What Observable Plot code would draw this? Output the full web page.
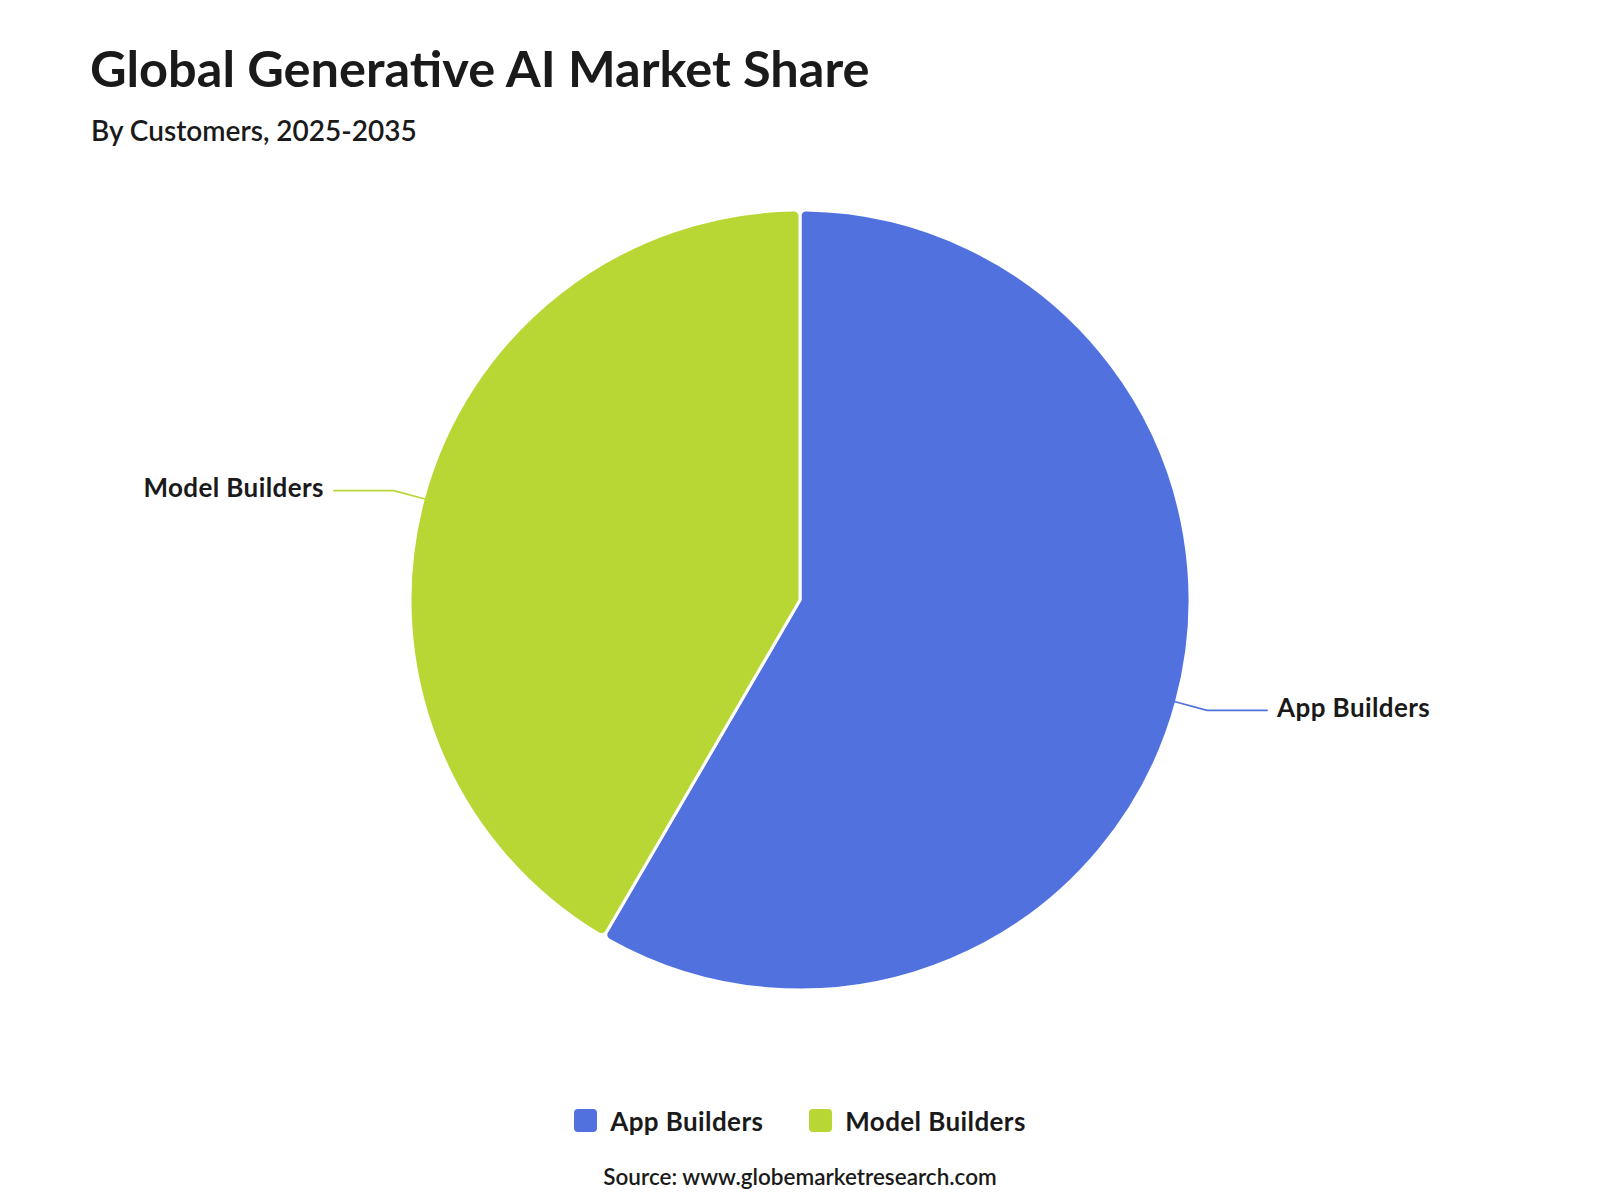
<!DOCTYPE html>
<html>
<head>
<meta charset="utf-8">
<script src="https://cdn.jsdelivr.net/npm/d3@7"></script>
<script src="https://cdn.jsdelivr.net/npm/@observablehq/plot@0.6"></script>
<style>
  html, body { margin: 0; padding: 0; background: #fff; }
  body { width: 1600px; height: 1200px; position: relative; font-family: Lato, "Noto Sans", sans-serif; color: #1a1a1a; overflow: hidden; }
  #title { position: absolute; left: 90px; top: 43px; font-size: 50.5px; font-weight: 700; line-height: 1; white-space: nowrap; }
  #subtitle { position: absolute; left: 91px; top: 116px; font-size: 28px; font-weight: 600; line-height: 1; white-space: nowrap; }
  #chart { position: absolute; left: 0; top: 170px; }
  #legend { position: absolute; left: 0; top: 1104px; width: 1600px; display: flex; justify-content: center; }
  #legend rect { rx: 4px; ry: 4px; }
  #source { position: absolute; left: 0; top: 1166px; width: 1600px; text-align: center; font-size: 22.5px; font-weight: 600; line-height: 1; }
</style>
</head>
<body>
<div id="title">Global Generative AI Market Share</div>
<div id="subtitle">By Customers, 2025-2035</div>
<div id="chart"></div>
<div id="legend"></div>
<div id="source">Source: www.globemarketresearch.com</div>
<script>
const categories = ["App Builders", "Model Builders"];
const shares = [58.4, 41.6];
const colors = ["#5172de", "#b8d734"];

const W = 1600, H = 860, R = 390;
const xHalf = W / 2 / R, yHalf = H / 2 / R;

const pie = d3.pie().sort(null).value(d => d.share)(categories.map((c, i) => ({category: c, share: shares[i]})));

// leader lines and labels in radius units
const leaderPts = [];
const labels = [];
pie.forEach(a => {
  const mid = (a.startAngle + a.endAngle) / 2;
  const sx = Math.sin(mid), sy = Math.cos(mid);
  const side = sx >= 0 ? 1 : -1;
  const r0 = 0.99, r1 = 1.08, h = 60 / R, gap = 10 / R;
  const ex = sx * r1, ey = sy * r1;
  leaderPts.push({category: a.data.category, x: sx * r0, y: sy * r0});
  leaderPts.push({category: a.data.category, x: ex, y: ey});
  leaderPts.push({category: a.data.category, x: ex + side * h, y: ey});
  labels.push({category: a.data.category, x: ex + side * (h + gap), y: ey, anchor: side > 0 ? "start" : "end"});
});

function pieMark(index, scales, values, dimensions, context) {
  const cx = scales.x(0), cy = scales.y(0);
  const rad = scales.x(1) - scales.x(0);
  const arc = d3.arc().innerRadius(0).outerRadius(rad).cornerRadius(6);
  const g = d3.create("svg:g").attr("transform", `translate(${cx},${cy})`);
  g.selectAll("path").data(pie).join("path")
    .attr("d", arc)
    .attr("fill", d => scales.color(d.data.category))
    .attr("stroke", "#fff")
    .attr("stroke-width", 3)
    .attr("stroke-linejoin", "round");
  return g.node();
}

const labelStyle = {x: "x", y: "y", text: "category", fontSize: 26, fontWeight: 700, fill: "#1a1a1a", dy: -2};
const chart = Plot.plot({
  width: W,
  height: H,
  margin: 0,
  x: {domain: [-xHalf, xHalf], axis: null},
  y: {domain: [-yHalf, yHalf], axis: null},
  color: {domain: categories, range: colors},
  style: {fontFamily: "Lato, 'Noto Sans', sans-serif", background: "transparent", letterSpacing: "0.4px"},
  marks: [
    pieMark,
    Plot.line(leaderPts, {x: "x", y: "y", z: "category", stroke: "category", strokeWidth: 1.7}),
    Plot.text(labels.filter(d => d.anchor === "start"), {...labelStyle, textAnchor: "start"}),
    Plot.text(labels.filter(d => d.anchor === "end"), {...labelStyle, textAnchor: "end"})
  ]
});
document.getElementById("chart").append(chart);

const legend = Plot.legend({
  color: {domain: categories, range: colors},
  legend: "swatches",
  swatchSize: 23,
  style: {fontFamily: "Lato, 'Noto Sans', sans-serif", fontSize: "26px", fontWeight: 700, color: "#1a1a1a", letterSpacing: "0.4px"}
});
document.getElementById("legend").append(legend);
</script>
<style>
  #legend span { margin-right: 46px !important; }
  #legend span svg { margin-right: 13px !important; }
  #legend span:last-child { margin-right: 0 !important; }
</style>
</body>
</html>
